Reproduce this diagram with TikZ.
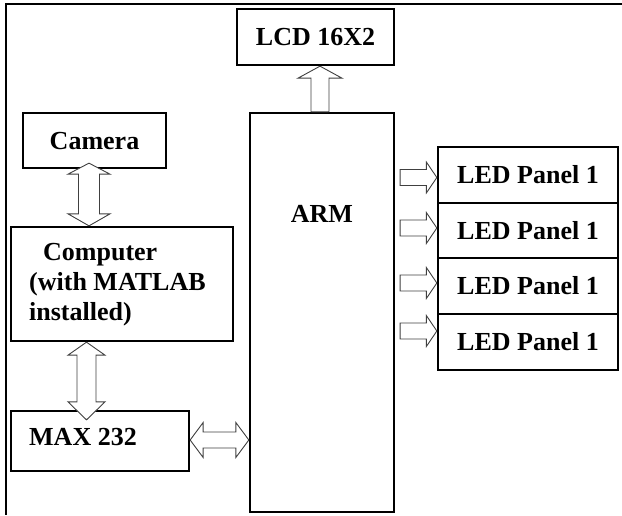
\documentclass[tikz,border=0pt]{standalone}
\usepackage{fontspec}
\setmainfont{Liberation Serif}
\usetikzlibrary{calc}
\newcommand\vdblarrow[6]{% top tip, bottom tip, shaft half, head half, head len top, head len bottom
  \draw[barrow] let \p1=#1, \p2=#2 in
   (\x1,\y1) -- (\x1+#4,\y1-#5) -- (\x1+#3,\y1-#5) -- (\x1+#3,\y2+#6) -- (\x1+#4,\y2+#6)
   -- (\x1,\y2) -- (\x1-#4,\y2+#6) -- (\x1-#3,\y2+#6) -- (\x1-#3,\y1-#5) -- (\x1-#4,\y1-#5) -- cycle;}
\newcommand\hdblarrow[5]{% left tip, right tip, shaft half, head half, head len
  \draw[barrow] let \p1=#1, \p2=#2 in
   (\x1,\y1) -- (\x1+#5,\y1+#4) -- (\x1+#5,\y1+#3) -- (\x2-#5,\y1+#3) -- (\x2-#5,\y1+#4)
   -- (\x2,\y1) -- (\x2-#5,\y1-#4) -- (\x2-#5,\y1-#3) -- (\x1+#5,\y1-#3) -- (\x1+#5,\y1-#4) -- cycle;}
\newcommand\rsarrow[5]{% tail, tip, shaft half, head half, head len
  \draw[barrow] let \p1=#1, \p2=#2 in
   (\x1,\y1+#3) -- (\x2-#5,\y1+#3) -- (\x2-#5,\y1+#4) -- (\x2,\y1) -- (\x2-#5,\y1-#4)
   -- (\x2-#5,\y1-#3) -- (\x1,\y1-#3) -- cycle;}
\newcommand\usarrow[5]{% tail (bottom), tip (top), shaft half, head half, head len
  \draw[barrow] let \p1=#1, \p2=#2 in
   (\x1-#3,\y1) -- (\x1-#3,\y2-#5) -- (\x1-#4,\y2-#5) -- (\x1,\y2) -- (\x1+#4,\y2-#5)
   -- (\x1+#3,\y2-#5) -- (\x1+#3,\y1) -- cycle;}
\begin{document}
\begin{tikzpicture}[x=1pt,y=-1pt,
  box/.style={draw=black, line width=2.3pt, fill=white, inner sep=0pt,
    font=\fontsize{26}{30}\selectfont\bfseries, text height=17pt, text depth=0pt},
  lbl/.style={inner sep=0pt, font=\fontsize{26}{30}\selectfont\bfseries},
  barrow/.style={draw=black!75, line width=0.9pt, fill=white, line join=miter},
  frame/.style={draw=black, line width=1.5pt}]
\useasboundingbox (0,0) rectangle (622,515);
% outer frame
\coordinate (ftl) at (6,4);
\coordinate (ftr) at (622,4);
\coordinate (fbl) at (6,515);
\draw[frame] (ftr) -- (ftl) -- (fbl);
% boxes
\node[box, minimum width=157pt, minimum height=56pt] (lcd) at (315.5,37) {LCD 16X2};
\node[box, minimum width=143pt, minimum height=55pt] (camera) at (94.5,140.5) {Camera};
\node[box, minimum width=222pt, minimum height=114pt] (computer) at (122,284) {};
\node[box, minimum width=178pt, minimum height=60pt] (max) at (100,441) {};
\node[box, minimum width=144pt, minimum height=399pt] (arm) at (322,312.5) {};
\node[box, minimum width=180pt, minimum height=56pt] (led1) at (528,175) {LED Panel 1};
\node[box, minimum width=180pt, minimum height=55.5pt] (led2) at (528,230.5) {LED Panel 1};
\node[box, minimum width=180pt, minimum height=56pt] (led3) at (528,286) {LED Panel 1};
\node[box, minimum width=180pt, minimum height=56pt] (led4) at (528,342) {LED Panel 1};
% labels
\node[lbl, anchor=base] (armlbl) at (322,222) {ARM};
\node[lbl, anchor=base west] (maxlbl) at (29,445) {MAX 232};
\node[lbl, anchor=base west] (comp1) at (43,260) {Computer};
\node[lbl, anchor=base west] (comp2) at (29,290) {(with MATLAB};
\node[lbl, anchor=base west] (comp3) at (29,320) {installed)};
% arrow guide coordinates
\coordinate (xa) at (89,0);
\coordinate (xb) at (86.5,0);
\coordinate (xc) at (320,0);
\coordinate (ym) at (0,440);
\coordinate (y1) at (0,177.5);
\coordinate (y2) at (0,228);
\coordinate (y3) at (0,283);
\coordinate (y4) at (0,331);
% arrows
\vdblarrow{($(camera.south -| xa)+(0,-6)$)}{(computer.north -| xa)}{10.5pt}{21pt}{11pt}{12pt}
\vdblarrow{(computer.south -| xb)}{($(max.north -| xb)+(0,10)$)}{9.5pt}{18.5pt}{13pt}{18pt}
\hdblarrow{(max.east |- ym)}{(arm.west |- ym)}{8pt}{17.5pt}{13pt}
\usarrow{(arm.north -| xc)}{(lcd.south -| xc)}{9pt}{22pt}{12pt}
\rsarrow{($(arm.east |- y1)+(5,0)$)}{(led1.west |- y1)}{8pt}{15.5pt}{10.5pt}
\rsarrow{($(arm.east |- y2)+(5,0)$)}{(led2.west |- y2)}{8pt}{15.5pt}{10.5pt}
\rsarrow{($(arm.east |- y3)+(5,0)$)}{(led3.west |- y3)}{8pt}{15.5pt}{10.5pt}
\rsarrow{($(arm.east |- y4)+(5,0)$)}{(led4.west |- y4)}{8pt}{15.5pt}{10.5pt}
\end{tikzpicture}
\end{document}
